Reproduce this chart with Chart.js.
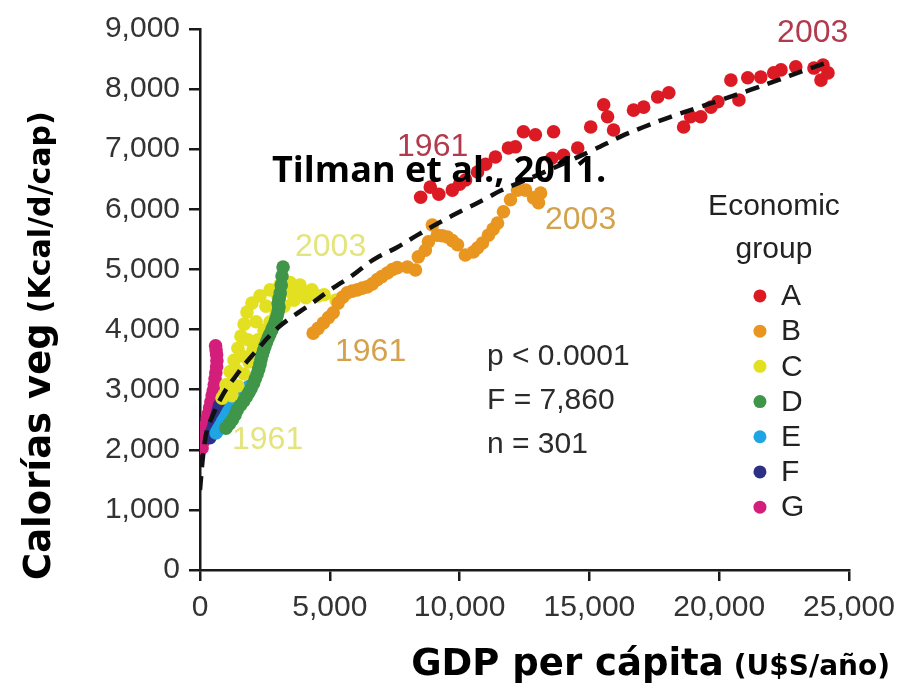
<!DOCTYPE html>
<html>
<head>
<meta charset="utf-8">
<style>
  html, body { margin: 0; padding: 0; background: #fff; }
  #wrap { width: 920px; height: 687px; position: relative; }
</style>
</head>
<body>
<div id="wrap"><canvas id="c" width="920" height="687"></canvas></div>
<script src="https://cdn.jsdelivr.net/npm/chart.js@4.4.1/dist/chart.umd.min.js"></script>
<script>
// Economic groups, one series per group (one point per year, 1961-2003)
const groups = ['A', 'B', 'C', 'D', 'E', 'F', 'G'];

const gdpA  = [8500, 8870, 9200, 9720, 10000, 10230, 10690, 11000, 11380, 11880, 12150, 12460, 12920, 13620, 13550, 14000, 14550, 15050, 15550, 15700, 15930, 16700, 17090, 17630, 18060, 18630, 18900, 19290, 19680, 19950, 20450, 20760, 21100, 21600, 22100, 22380, 22950, 23650, 23920, 24190, 24000];
const kcalA = [6200, 6370, 6250, 6320, 6420, 6490, 6620, 6750, 6870, 7020, 7040, 7290, 7240, 7290, 6850, 6900, 7020, 7370, 7740, 7540, 7320, 7650, 7700, 7870, 7940, 7370, 7540, 7540, 7700, 7790, 8150, 7820, 8190, 8200, 8270, 8320, 8370, 8350, 8150, 8270, 8400];

const gdpB  = [4360, 4550, 4750, 4950, 5130, 5320, 5500, 5670, 5860, 6060, 6250, 6440, 6640, 6830, 7000, 7220, 7410, 7600, 7990, 8300, 8410, 8680, 8800, 8950, 9140, 9330, 9530, 9720, 9920, 10220, 10530, 10700, 10880, 11110, 11290, 11460, 11690, 11960, 12230, 12540, 12850, 13040, 13120];
const kcalB = [3940, 4020, 4110, 4200, 4280, 4440, 4540, 4610, 4640, 4660, 4690, 4710, 4760, 4830, 4880, 4940, 5000, 5030, 5040, 4990, 5210, 5320, 5460, 5740, 5570, 5560, 5540, 5480, 5410, 5240, 5290, 5360, 5440, 5570, 5670, 5770, 5960, 6160, 6320, 6320, 6190, 6110, 6270];

const gdpC  = [850, 920, 1230, 1080, 1000, 1460, 1160, 1390, 1700, 1310, 1620, 1890, 1460, 1850, 2040, 1580, 2230, 2160, 1700, 2470, 1810, 2540, 2700, 2000, 2930, 3000, 2310, 3240, 2700, 3620, 3470, 3080, 4080, 3930, 3470, 3850, 4310, 4550, 4780, 5240];
const kcalC = [2860, 2910, 2900, 3080, 3080, 3060, 3300, 3330, 3260, 3490, 3560, 3460, 3690, 3830, 3660, 3890, 3830, 4130, 4090, 3990, 4290, 4390, 4130, 4440, 4260, 4560, 4560, 4390, 4660, 4490, 4630, 4740, 4530, 4630, 4780, 4740, 4660, 4560, 4580, 4490];

const gdpD  = [1000, 1130, 1250, 1350, 1430, 1560, 1680, 1780, 1880, 1970, 2060, 2130, 2200, 2260, 2310, 2350, 2400, 2450, 2500, 2560, 2620, 2690, 2760, 2820, 2880, 2930, 2970, 3010, 3040, 3010, 3050, 3090, 3130, 3160, 3200];
const kcalD = [2360, 2430, 2500, 2580, 2660, 2740, 2810, 2880, 2950, 3020, 3100, 3180, 3260, 3340, 3420, 3500, 3580, 3650, 3720, 3790, 3860, 3920, 3990, 4050, 4110, 4170, 4230, 4300, 4370, 4440, 4520, 4610, 4740, 4890, 5040];

const gdpE  = [620, 700, 780, 860, 940, 1020, 1100, 1180, 1260, 1350, 1440, 1530, 1620, 1710, 1800, 1880];
const kcalE = [2280, 2340, 2400, 2460, 2520, 2580, 2640, 2700, 2750, 2800, 2850, 2900, 2940, 2980, 3020, 3050];

const gdpF  = [380, 430, 480, 520, 560, 600, 640, 680, 720, 760];
const kcalF = [2200, 2260, 2320, 2380, 2440, 2500, 2560, 2620, 2680, 2740];

const gdpG  = [80, 110, 150, 190, 230, 280, 320, 370, 420, 470, 510, 550, 580, 610, 640, 650, 640, 620, 600];
const kcalG = [2030, 2120, 2220, 2300, 2420, 2520, 2600, 2700, 2800, 2900, 2980, 3080, 3180, 3280, 3380, 3480, 3580, 3660, 3730];

// Fitted curve across all groups
const fitGdp  = [0, 120, 270, 500, 770, 1040, 1350, 1660, 2200, 2820, 3470, 4130, 5020, 5900, 6670, 7600, 8370, 9260, 10150, 11070, 11570, 12730, 13890, 15160, 16200, 17090, 18130, 19170, 20060, 21220, 22260, 23150, 24190];
const fitKcal = [1330, 1910, 2330, 2580, 2830, 3030, 3210, 3390, 3660, 3960, 4190, 4380, 4660, 4910, 5160, 5370, 5570, 5790, 5990, 6190, 6310, 6520, 6740, 6990, 7210, 7370, 7540, 7690, 7820, 7990, 8150, 8290, 8450];

// Axis ticks
const xTicks = [0, 5000, 10000, 15000, 20000, 25000];
const yTicks = [0, 1000, 2000, 3000, 4000, 5000, 6000, 7000, 8000, 9000];

// Statistics of the fit
const statLines = ['p < 0.0001', 'F = 7,860', 'n = 301'];

// ---- styles ----
const groupColors = {
  A: '#dc1a24', B: '#e8961f', C: '#e2e021', D: '#3f9548',
  E: '#1fa4e4', F: '#2d3185', G: '#d31f7b'
};
const series = { A: [gdpA, kcalA], B: [gdpB, kcalB], C: [gdpC, kcalC], D: [gdpD, kcalD],
                 E: [gdpE, kcalE], F: [gdpF, kcalF], G: [gdpG, kcalG] };
// draw order: later groups sit underneath earlier ones
const drawOrder = { A: 2, B: 3, C: 5, D: 4, E: 6, F: 7, G: 8 };

const toPoints = (xs, ys) => xs.map((x, i) => ({ x: x, y: ys[i] }));

const datasets = groups.map(g => ({
  label: g,
  data: toPoints(series[g][0], series[g][1]),
  backgroundColor: groupColors[g],
  borderWidth: 0,
  pointRadius: 6.8,
  pointHoverRadius: 6.8,
  order: drawOrder[g]
}));

datasets.unshift({
  label: 'fit',
  type: 'line',
  data: toPoints(fitGdp, fitKcal),
  borderColor: '#111',
  borderWidth: 4.5,
  borderDash: [14, 9],
  pointRadius: 0,
  fill: false,
  tension: 0.35,
  order: 0
});

// year labels placed in data units (left edge, vertical middle)
const yearNotes = [
  { text: '1961', x: 7590,  y: 7040, color: '#b23a4c' },
  { text: '2003', x: 22230, y: 8935, color: '#b23a4c' },
  { text: '2003', x: 13290, y: 5824, color: '#d4a24c' },
  { text: '1961', x: 5200,  y: 3627, color: '#d4a24c' },
  { text: '2003', x: 3660,  y: 5374, color: '#e3e57c' },
  { text: '1961', x: 1233,  y: 2163, color: '#e3e57c' }
];

const plainFont = '"Liberation Sans", Arial, sans-serif';
const boldFont = '"DejaVu Sans", sans-serif';

const overlay = {
  id: 'overlay',
  afterDraw(chart) {
    const ctx = chart.ctx;
    const xs = chart.scales.x, ys = chart.scales.y;
    const px = v => xs.getPixelForValue(v);
    const py = v => ys.getPixelForValue(v);
    ctx.save();
    ctx.textBaseline = 'middle';
    ctx.textAlign = 'left';

    // year labels
    ctx.font = '32px ' + plainFont;
    yearNotes.forEach(n => {
      ctx.fillStyle = n.color;
      ctx.fillText(n.text, px(n.x), py(n.y));
    });

    // fit statistics
    ctx.fillStyle = '#2b2b2b';
    ctx.font = '30px ' + plainFont;
    statLines.forEach((s, i) => ctx.fillText(s, px(11055), py(3544) + i * 44));

    // legend
    const lx = px(22110);
    ctx.textAlign = 'center';
    ctx.fillStyle = '#222';
    ctx.font = '30px ' + plainFont;
    ctx.fillText('Economic', lx, py(6040));
    ctx.fillText('group', lx, py(5324));
    ctx.textAlign = 'left';
    groups.forEach((g, i) => {
      const y = py(4559) + i * 35.2;
      ctx.fillStyle = groupColors[g];
      ctx.beginPath();
      ctx.arc(px(21570), y, 6.5, 0, Math.PI * 2);
      ctx.fill();
      ctx.fillStyle = '#222';
      ctx.fillText(g, px(22380), y + 1);
    });

    // source note
    ctx.fillStyle = '#000';
    ctx.font = 'bold 36px "Open Sans", sans-serif';
    ctx.fillText('Tilman et al., 2011.', px(2773), py(6622));

    // x axis title (right aligned)
    ctx.textBaseline = 'alphabetic';
    const bigX = 'GDP per cápita', smallX = '(U$S/año)';
    ctx.font = 'bold 28px ' + boldFont;
    const wSmallX = ctx.measureText(smallX).width;
    ctx.fillText(smallX, 890 - wSmallX, 675);
    ctx.font = 'bold 37px ' + boldFont;
    const wBigX = ctx.measureText(bigX).width;
    ctx.fillText(bigX, 890 - wSmallX - 10 - wBigX, 675);

    // y axis title (rotated, reading upwards)
    ctx.translate(50, 580);
    ctx.rotate(-Math.PI / 2);
    ctx.font = 'bold 37px ' + boldFont;
    const bigY = 'Calorías veg';
    ctx.fillText(bigY, 0, 0);
    const wBigY = ctx.measureText(bigY).width;
    ctx.font = 'bold 30px ' + boldFont;
    ctx.fillText('(Kcal/d/cap)', wBigY + 10, 0);
    ctx.restore();
  }
};

const axisColor = '#1a1a1a';
const tickFont = { family: plainFont, size: 30 };

new Chart(document.getElementById('c'), {
  type: 'scatter',
  data: { datasets: datasets },
  options: {
    responsive: false,
    devicePixelRatio: 1,
    animation: false,
    layout: { padding: { top: 29, right: 71, left: 0, bottom: 0 } },
    plugins: { legend: { display: false }, tooltip: { enabled: false } },
    scales: {
      x: {
        type: 'linear', min: 0, max: 25000,
        afterBuildTicks: s => { s.ticks = xTicks.map(v => ({ value: v })); },
        afterFit: s => { s.height = 117; },
        ticks: { font: tickFont, color: '#333', padding: 9, maxRotation: 0, autoSkip: false,
                 callback: v => v.toLocaleString('en-US') },
        grid: { drawOnChartArea: false, drawTicks: true, tickLength: 11, color: axisColor, lineWidth: 2.5 },
        border: { color: axisColor, width: 2.5 }
      },
      y: {
        type: 'linear', min: 0, max: 9000,
        afterBuildTicks: s => { s.ticks = yTicks.map(v => ({ value: v })); },
        afterFit: s => { s.width = 200; },
        ticks: { font: tickFont, color: '#333', padding: 9, autoSkip: false,
                 callback: v => v.toLocaleString('en-US') },
        grid: { drawOnChartArea: false, drawTicks: true, tickLength: 11, color: axisColor, lineWidth: 2.5 },
        border: { color: axisColor, width: 2.5 }
      }
    }
  },
  plugins: [overlay]
});
</script>
</body>
</html>
